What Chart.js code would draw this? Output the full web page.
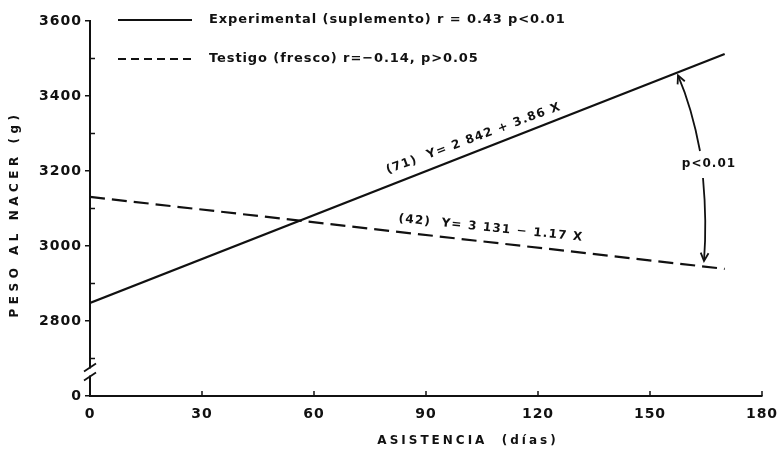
<!DOCTYPE html>
<html>
<head>
<meta charset="utf-8">
<script src="https://cdn.jsdelivr.net/npm/chart.js@4.4.1/dist/chart.umd.min.js"></script>
<style>
html,body{margin:0;padding:0;background:#fff;}
#c{display:block;}
</style>
</head>
<body>
<canvas id="c" width="779" height="456"></canvas>
<script>
// ---- data ----
const xDays = [0, 170];
const experimental = [2848, 3512];   // Y = 2 842 + 3.86 X
const testigo = [3131, 2939];        // Y = 3 131 - 1.17 X
const xTickValues = [0, 30, 60, 90, 120, 150, 180];
const yTickValues = [2600, 2700, 2800, 2900, 3000, 3100, 3200, 3300, 3400, 3500, 3600];
const yBreakLabel = '0';
const legendLabels = ['Experimental (suplemento) r = 0.43 p<0.01', 'Testigo (fresco) r=\u22120.14, p>0.05'];
const eqLabels = ['(71)  Y= 2 842 + 3.86 X', '(42)  Y= 3 131 \u2212 1.17 X'];
const sigLabel = 'p<0.01';
const xTitle = 'ASISTENCIA  (días)';
const yTitle = 'PESO AL NACER (g)';

const INK = '#111';
const FONT = '"DejaVu Sans", sans-serif';

function spaced(ctx, text, x, y, spacing) {
  ctx.letterSpacing = spacing + 'px';
  ctx.fillText(text, x, y);
  ctx.letterSpacing = '0px';
}

const decor = {
  id: 'decor',
  beforeDraw(chart) {
    chart.ctx.letterSpacing = '1px';
  },
  afterDraw(chart) {
    const ctx = chart.ctx;
    const xs = chart.scales.x, ys = chart.scales.y;
    ctx.save();
    ctx.letterSpacing = '0px';
    ctx.strokeStyle = INK;
    ctx.fillStyle = INK;
    ctx.lineCap = 'butt';

    // minor y ticks pointing inward
    ctx.lineWidth = 1.5;
    yTickValues.forEach(v => {
      if (v % 200 !== 0 && v !== ys.min) {
        const y = ys.getPixelForValue(v);
        ctx.beginPath(); ctx.moveTo(ys.right, y); ctx.lineTo(ys.right + 5, y); ctx.stroke();
      }
    });
    // x ticks pointing inward (upward)
    xTickValues.forEach(v => {
      if (v === 0) return;
      const x = xs.getPixelForValue(v);
      ctx.beginPath(); ctx.moveTo(x, xs.top); ctx.lineTo(x, xs.top - 5); ctx.stroke();
    });

    // axis break
    const b1 = ys.getPixelForValue(2676), b2 = ys.getPixelForValue(2652);
    ctx.fillStyle = '#fff';
    ctx.fillRect(ys.right - 2, b1 + 1, 4, b2 - b1 - 2);
    ctx.fillStyle = INK;
    ctx.lineWidth = 1.8;
    [b1, b2].forEach(y => {
      ctx.beginPath(); ctx.moveTo(ys.right - 6, y + 4); ctx.lineTo(ys.right + 6, y - 4); ctx.stroke();
    });

    // legend
    const lx0 = 118, lx1 = 192, tx = 209;
    const ly = [20, 59];
    ctx.lineWidth = 2;
    ctx.beginPath(); ctx.moveTo(lx0, ly[0]); ctx.lineTo(lx1, ly[0]); ctx.stroke();
    ctx.setLineDash([8, 5]);
    ctx.beginPath(); ctx.moveTo(lx0, ly[1]); ctx.lineTo(lx1, ly[1]); ctx.stroke();
    ctx.setLineDash([]);
    ctx.font = 'bold 13px ' + FONT;
    ctx.textAlign = 'left';
    ctx.textBaseline = 'middle';
    spaced(ctx, legendLabels[0], tx, ly[0], 0.9);
    spaced(ctx, legendLabels[1], tx, ly[1], 0.9);

    // equations along lines
    const meta0 = chart.getDatasetMeta(0).data, meta1 = chart.getDatasetMeta(1).data;
    function eq(meta, xv, off, text, dAng) {
      const p0 = meta[0], p1 = meta[1];
      const ang = Math.atan2(p1.y - p0.y, p1.x - p0.x) + dAng;
      const px = xs.getPixelForValue(xv);
      const t = (px - p0.x) / (p1.x - p0.x);
      const py = p0.y + t * (p1.y - p0.y);
      ctx.save();
      ctx.translate(px, py);
      ctx.rotate(ang);
      ctx.font = 'bold 12px ' + FONT;
      ctx.textAlign = 'center';
      ctx.textBaseline = 'middle';
      spaced(ctx, text, 0, -off, 1.2);
      ctx.restore();
    }
    eq(meta0, 104, 13, eqLabels[0], 0.02);
    eq(meta1, 107, 14, eqLabels[1], -0.01);

    // significance arrow
    ctx.lineWidth = 1.8;
    const ax = xs.getPixelForValue(157.5);
    const topY = ys.getPixelForValue(3455);
    const botY = ys.getPixelForValue(2960);
    ctx.beginPath();
    ctx.moveTo(ax + 22, 151);
    ctx.quadraticCurveTo(ax + 14, 108, ax, topY);
    ctx.stroke();
    ctx.beginPath();
    ctx.moveTo(ax + 25, 178);
    ctx.quadraticCurveTo(ax + 29, 222, ax + 26, botY);
    ctx.stroke();
    function head(tx_, ty_, dx, dy) {
      const a = Math.atan2(dy, dx), L = 9, w = 0.45;
      ctx.beginPath();
      ctx.moveTo(tx_ - L * Math.cos(a - w), ty_ - L * Math.sin(a - w));
      ctx.lineTo(tx_, ty_);
      ctx.lineTo(tx_ - L * Math.cos(a + w), ty_ - L * Math.sin(a + w));
      ctx.stroke();
    }
    head(ax, topY, -14, -(108 - topY));
    head(ax + 26, botY, -3, botY - 222);
    ctx.font = 'bold 12px ' + FONT;
    ctx.textAlign = 'center';
    ctx.textBaseline = 'middle';
    spaced(ctx, sigLabel, ax + 31, 164, 1);

    // axis titles
    ctx.font = 'bold 12px ' + FONT;
    spaced(ctx, xTitle, 468, 441, 3);
    ctx.save();
    ctx.translate(15, 214);
    ctx.rotate(-Math.PI / 2);
    spaced(ctx, yTitle, 0, 0, 4.5);
    ctx.restore();

    ctx.restore();
  }
};

new Chart(document.getElementById('c'), {
  type: 'line',
  data: {
    datasets: [
      {
        label: legendLabels[0],
        data: xDays.map((x, i) => ({ x: x, y: experimental[i] })),
        borderColor: INK, borderWidth: 2.2, pointRadius: 0, tension: 0, fill: false
      },
      {
        label: legendLabels[1],
        data: xDays.map((x, i) => ({ x: x, y: testigo[i] })),
        borderColor: INK, borderWidth: 2.2, borderDash: [15, 7], pointRadius: 0, tension: 0, fill: false
      }
    ]
  },
  options: {
    responsive: false,
    animation: false,
    devicePixelRatio: 1,
    layout: { padding: { top: 21, right: 17, left: 0, bottom: 0 } },
    plugins: { legend: { display: false }, tooltip: { enabled: false }, title: { display: false } },
    scales: {
      x: {
        type: 'linear', min: 0, max: 180,
        afterBuildTicks: s => { s.ticks = xTickValues.map(v => ({ value: v })); },
        afterFit: s => { s.height = 60; s.paddingRight = 0; s.paddingLeft = 0; },
        grid: { drawOnChartArea: false, drawTicks: true, tickLength: 5, color: 'rgba(0,0,0,0)', lineWidth: 1.5 },
        border: { display: true, color: INK, width: 2 },
        ticks: { color: INK, font: { family: FONT, size: 14, weight: 'bold' }, padding: 5, maxRotation: 0, autoSkip: false }
      },
      y: {
        type: 'linear', min: 2600, max: 3600,
        afterBuildTicks: s => { s.ticks = yTickValues.map(v => ({ value: v })); },
        afterFit: s => { s.width = 90; },
        grid: {
          drawOnChartArea: false, drawTicks: true, tickLength: 5, lineWidth: 1.5,
          color: c => (c.tick && (c.tick.value % 200 === 0 || c.tick.value === 2600)) ? INK : 'rgba(0,0,0,0)'
        },
        border: { display: true, color: INK, width: 2 },
        ticks: {
          color: INK, font: { family: FONT, size: 14, weight: 'bold' }, padding: 3, autoSkip: false,
          callback: v => v === 2600 ? yBreakLabel : (v % 200 === 0 ? String(v) : '')
        }
      }
    }
  },
  plugins: [decor]
});
</script>
</body>
</html>
